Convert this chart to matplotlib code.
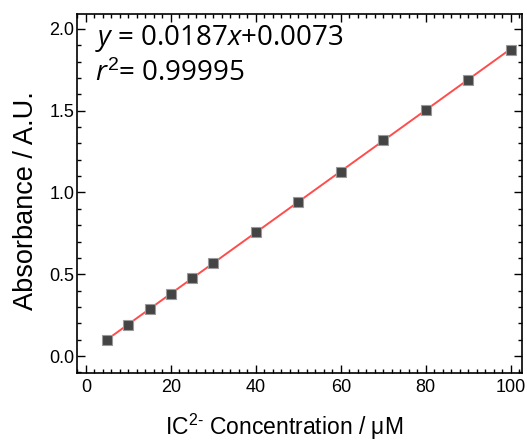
import matplotlib
matplotlib.use('Agg')
import numpy as np
import matplotlib.pyplot as plt
from matplotlib.ticker import MultipleLocator

# calibration data
conc = [5, 10, 15, 20, 25, 30, 40, 50, 60, 70, 80, 90, 100]
absorbance = [0.099, 0.192, 0.287, 0.382, 0.476, 0.570, 0.757, 0.944, 1.126, 1.318, 1.505, 1.690, 1.870]
slope = 0.0187
intercept = 0.0073

plt.rcParams['font.family'] = ['Liberation Sans', 'DejaVu Sans']
plt.rcParams['mathtext.fontset'] = 'custom'
plt.rcParams['mathtext.rm'] = 'Liberation Sans'
plt.rcParams['mathtext.it'] = 'Open Sans:italic'
plt.rcParams['mathtext.sf'] = 'Open Sans'

fig = plt.figure(figsize=(5.27, 4.42), dpi=100)
ax = fig.add_axes([0.146, 0.156, 0.844, 0.812])

xfit = np.array([conc[0], conc[-1]])
ax.plot(xfit, slope * xfit + intercept, color='#ff4d4d', lw=1.4, zorder=2)
ax.plot(conc, absorbance, 's', ms=6.5, mfc='#444444', mec='#999999', mew=0.8, zorder=3)

ax.set_xlim(-2.1, 102.6)
ax.set_ylim(-0.104, 2.09)
ax.xaxis.set_major_locator(MultipleLocator(20))
ax.xaxis.set_minor_locator(MultipleLocator(2))
ax.yaxis.set_major_locator(MultipleLocator(0.5))
ax.yaxis.set_minor_locator(MultipleLocator(0.1))
ax.tick_params(which='both', direction='in', top=True, right=True, width=1.0, labelsize=13)
ax.tick_params(axis='x', pad=4)
ax.tick_params(axis='y', pad=2)
ax.tick_params(which='major', length=6)
ax.tick_params(which='minor', length=3)
for s in ax.spines.values():
    s.set_linewidth(1.2)

ax.set_xlabel(r'IC$^{\mathrm{2\text{-}}}$ Concentration / μM', fontsize=16.5, labelpad=12)
ax.xaxis.label.set_x(0.465)
ax.set_ylabel('Absorbance / A.U.', fontsize=19.5, labelpad=7)
ax.yaxis.label.set_y(0.48)

ax.text(0.04, 0.914, r'$y$ = 0.0187$x$+0.0073', transform=ax.transAxes,
        family='Open Sans', fontsize=20, va='baseline')
ax.text(0.04, 0.813, r'$r^{\mathit{2}}$= 0.99995', transform=ax.transAxes,
        family='Open Sans', fontsize=20, va='baseline')

fig.savefig('out.png', dpi=100)
